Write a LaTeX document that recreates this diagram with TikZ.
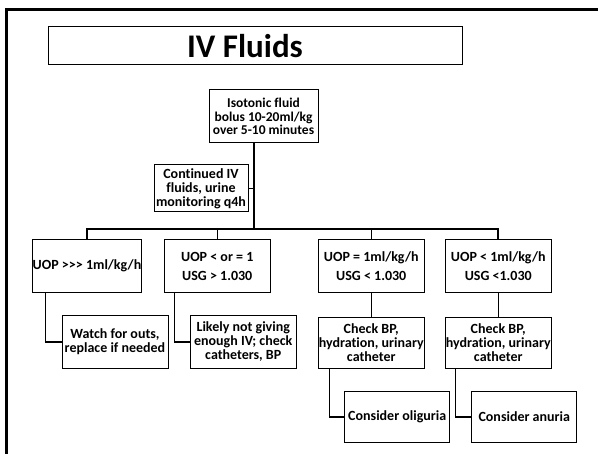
\documentclass[tikz,border=0pt]{standalone}
\usepackage{fontspec}
\setmainfont{Carlito}[Ligatures=NoCommon]
\usetikzlibrary{positioning}

\tikzset{
  box/.style={draw, line width=1pt, align=center, inner sep=0pt,
    minimum width=106pt, minimum height=53pt,
    font=\fontsize{14}{14}\selectfont\bfseries},
  link/.style={line width=1.2pt},
  bus/.style={line width=1.8pt}
}

\begin{document}
\begin{tikzpicture}[x=1pt,y=-1pt]
        \useasboundingbox (0,0) rectangle (598,454);
        % page frame
        \draw[line width=3pt] (6,454) -- (6,10) -- (598,10);

        \node[draw, line width=1pt, minimum width=414pt, minimum height=38pt,
          font=\fontsize{33}{36}\selectfont\bfseries] (title) at (255,46) {IV Fluids\hspace*{20pt}};

        \node[box, minimum width=109pt, font=\fontsize{13.5}{13.5}\selectfont\bfseries] (bolus) at (263.5,116.5) {Isotonic fluid\\bolus 10-20ml/kg\\over 5-10 minutes};
        \node[box, minimum width=94pt, minimum height=47pt] (cont) at (201,188.5) {Continued IV\\fluids, urine\\monitoring q4h};
        \coordinate (hub) at (254,229);

        \node[box] (uop_hi) at (87,266) {UOP >{}>{}> 1ml/kg/h};
        \node[box] (uop_le) [right = 22pt of uop_hi] {UOP < or = 1\\[5pt]USG > 1.030};
        \node[box] (uop_eq) [right = 47pt of uop_le] {UOP = 1ml/kg/h\\[5pt]USG < 1.030};
        \node[box] (uop_lo) [right = 20pt of uop_eq] {UOP < 1ml/kg/h\\[5pt]USG <1.030};

        \node[box] (watch) [below = 22pt of uop_hi, xshift=28pt] {Watch for outs,\\replace if needed};
        \node[box] (likely) [below = 22pt of uop_le, xshift=26pt] {Likely not giving\\enough IV; check\\catheters, BP};
        \node[box, minimum height=51pt] (check_eq) [below = 24pt of uop_eq] {Check BP,\\hydration, urinary\\catheter};
        \node[box, minimum height=51pt] (check_lo) [below = 24pt of uop_lo] {Check BP,\\hydration, urinary\\catheter};

        \node[box, minimum width=105pt, minimum height=51pt] (olig) [below = 22pt of check_eq, xshift=26pt] {Consider oliguria};
        \node[box, minimum width=105pt, minimum height=51pt] (anur) [below = 22pt of check_lo, xshift=26pt] {Consider anuria};

        %bolus down to the bus
        \draw[link] (hub |- bolus.south) -- (hub);

        %continued fluids joins the trunk
        \draw[link] (cont.east) -- (cont.east -| hub);

        %bus over the four outcomes
        \draw[bus] (uop_hi.north) |- (hub) -| (uop_lo.north);
        \draw[link] (uop_le.north) -- (uop_le.north |- hub);
        \draw[link] (uop_eq.north) -- (uop_eq.north |- hub);

        %outcome to advice
        \draw[link] ([xshift=13pt]uop_hi.south west) |- (watch.west);
        \draw[link] ([xshift=11pt]uop_le.south west) |- (likely.west);
        \draw[link] (uop_eq) -- (check_eq);
        \draw[link] (uop_lo) -- (check_lo);

        %check to consider
        \draw[link] ([xshift=12pt]check_eq.south west) |- (olig.west);
        \draw[link] ([xshift=11pt]check_lo.south west) |- (anur.west);
\end{tikzpicture}
\end{document}
